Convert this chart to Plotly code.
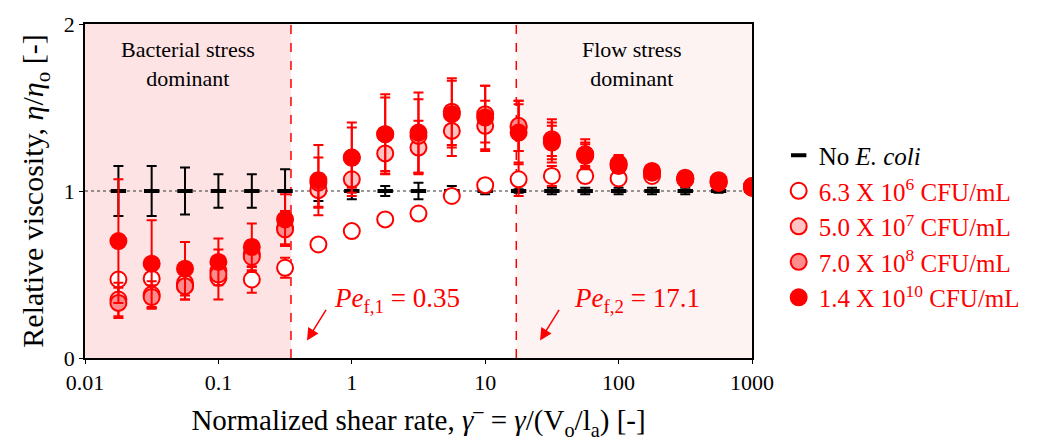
import plotly.graph_objects as go

# ---- data ----
shear_rate = [0.0178, 0.0316, 0.0562, 0.1, 0.178, 0.316, 0.562, 1.0, 1.78, 3.16,
              5.62, 10.0, 17.8, 31.6, 56.2, 100.0, 178.0, 316.0, 562.0, 1000.0]

no_ecoli = [1.0] * 20
no_ecoli_err = [0.15, 0.15, 0.14, 0.10, 0.10, 0.13, 0.06, 0.05, 0.03, 0.05,
                0.03, 0.02, 0.01, 0.02, 0.02, 0.02, 0.02, 0.02, 0.01, 0.01]

c63e6 = [0.47, 0.475, 0.45, 0.48, 0.47, 0.54, 0.68, 0.76, 0.83, 0.865,
         0.97, 1.035, 1.07, 1.09, 1.09, 1.075, 1.09, 1.07, 1.065, 1.02]
c63e6_err = [0.03, 0.03, 0.03, 0.03, 0.08, 0.06, 0.02, 0.02, 0.02, 0.02,
             0.02, 0.02, 0.10, 0.06, 0.04, 0.02, 0.02, 0.02, 0.02, 0.02]

c50e7 = [0.35, 0.38, 0.43, 0.52, 0.625, 0.78, 1.005, 1.07, 1.225, 1.26,
         1.36, 1.39, 1.38, 1.29, 1.21, 1.15, 1.11, 1.07, 1.05, 1.02]
c50e7_err = [0.10, 0.08, 0.08, 0.06, 0.08, 0.10, 0.10, 0.10, 0.12, 0.16,
             0.15, 0.15, 0.14, 0.10, 0.07, 0.04, 0.03, 0.02, 0.02, 0.03]

c70e8 = [0.33, 0.365, 0.43, 0.50, 0.605, 0.77, 1.05, 1.20, 1.34, 1.33,
         1.475, 1.46, 1.39, 1.31, 1.22, 1.16, 1.12, 1.08, 1.06, 1.03]
c70e8_err = [0.09, 0.07, 0.08, 0.15, 0.09, 0.10, 0.15, 0.18, 0.22, 0.22,
             0.20, 0.17, 0.15, 0.10, 0.07, 0.05, 0.03, 0.02, 0.02, 0.03]

c14e10 = [0.70, 0.565, 0.535, 0.575, 0.665, 0.83, 1.065, 1.20, 1.34, 1.35,
          1.46, 1.44, 1.35, 1.30, 1.22, 1.165, 1.115, 1.075, 1.05, 1.03]
c14e10_err = [0.37, 0.26, 0.16, 0.14, 0.14, 0.15, 0.21, 0.21, 0.24, 0.24,
              0.20, 0.19, 0.19, 0.13, 0.09, 0.05, 0.03, 0.02, 0.02, 0.03]

pe1 = 0.35
pe2 = 17.1
x_tickvals = [0.01, 0.1, 1, 10, 100, 1000]
x_ticktext = ["0.01", "0.1", "1", "10", "100", "1000"]
y_tickvals = [0, 1, 2]

RED = "#ff0000"
FONT = "Liberation Serif"

fig = go.Figure()

fig.add_trace(go.Scatter(
    x=shear_rate, y=no_ecoli, mode="markers",
    name="No <i>E. coli</i>",
    marker=dict(symbol="line-ew", size=11, color="black",
                line=dict(color="black", width=4)),
    error_y=dict(type="data", array=no_ecoli_err, visible=True,
                 color="black", thickness=2, width=5),
))

series = [
    ("6.3 X 10<sup>6</sup> CFU/mL", c63e6, c63e6_err, "white"),
    ("5.0 X 10<sup>7</sup> CFU/mL", c50e7, c50e7_err, "#ffc4c4"),
    ("7.0 X 10<sup>8</sup> CFU/mL", c70e8, c70e8_err, "#ff8c8c"),
    ("1.4 X 10<sup>10</sup> CFU/mL", c14e10, c14e10_err, RED),
]
for name, yv, ev, fill in series:
    fig.add_trace(go.Scatter(
        x=shear_rate, y=yv, mode="markers",
        name=f'<span style="color:{RED}">{name}</span>',
        marker=dict(symbol="circle", size=16, color=fill,
                    line=dict(color=RED, width=2)),
        error_y=dict(type="data", array=ev, visible=True,
                     color=RED, thickness=2, width=5),
    ))

# regions and reference lines
fig.add_shape(type="rect", xref="x", yref="paper", x0=x_tickvals[0], x1=pe1,
              y0=0, y1=1, fillcolor="#fde3e4", line_width=0, layer="below")
fig.add_shape(type="rect", xref="x", yref="paper", x0=pe2, x1=x_tickvals[-1],
              y0=0, y1=1, fillcolor="#fdf3f3", line_width=0, layer="below")
fig.add_shape(type="line", xref="paper", yref="y", x0=0, x1=1, y0=1, y1=1,
              line=dict(color="#333333", width=1.2, dash="dot"), layer="below")
for pe in (pe1, pe2):
    fig.add_shape(type="line", xref="x", yref="paper", x0=pe, x1=pe, y0=0, y1=1,
                  line=dict(color=RED, width=1.5, dash="dash"), layer="below")

# texts
fig.add_annotation(x=-1.228, y=1.76, xref="x", yref="y", showarrow=False,
                   text="Bacterial stress<br>dominant",
                   font=dict(family=FONT, size=22, color="black"))
fig.add_annotation(x=2.10, y=1.76, xref="x", yref="y", showarrow=False,
                   text="Flow stress<br>dominant",
                   font=dict(family=FONT, size=22, color="black"))
fig.add_annotation(x=0.34, y=0.35, xref="x", yref="y", showarrow=False,
                   text="<i>Pe</i><sub>f,1</sub> = 0.35",
                   font=dict(family=FONT, size=27, color=RED))
fig.add_annotation(x=2.14, y=0.35, xref="x", yref="y", showarrow=False,
                   text="<i>Pe</i><sub>f,2</sub> = 17.1",
                   font=dict(family=FONT, size=27, color=RED))
for hx in (-0.336, 1.411):
    fig.add_annotation(x=hx, y=0.105, xref="x", yref="y", text="",
                       showarrow=True, ax=20, ay=-32, arrowhead=2,
                       arrowsize=1.6, arrowwidth=1.5, arrowcolor=RED)

fig.update_layout(
    width=1061, height=446,
    margin=dict(l=85, r=309, t=18, b=88),
    paper_bgcolor="white", plot_bgcolor="white",
    font=dict(family=FONT, size=22, color="black"),
    showlegend=True,
    legend=dict(x=1.04, y=0.675, xanchor="left", yanchor="top",
                font=dict(family=FONT, size=25, color="black"),
                bgcolor="rgba(0,0,0,0)", tracegroupgap=0, itemwidth=30),
    xaxis=dict(type="log", range=[-2, 3], tickvals=x_tickvals, ticktext=x_ticktext,
               showline=True, mirror=True, linecolor="black", linewidth=1.5,
               ticks="outside", ticklen=4, tickcolor="black",
               showgrid=False, zeroline=False,
               tickfont=dict(family=FONT, size=22),
               title=dict(text="Normalized shear rate, <i>γ</i><sup>–</sup> = <i>γ</i>/(V<sub>o</sub>/l<sub>a</sub>) [-]",
                          font=dict(family=FONT, size=29), standoff=16)),
    yaxis=dict(range=[0, 2], tickvals=y_tickvals,
               showline=True, mirror=True, linecolor="black", linewidth=1.5,
               ticks="outside", ticklen=4, tickcolor="black",
               showgrid=False, zeroline=False,
               tickfont=dict(family=FONT, size=22),
               title=dict(text="Relative viscosity, <i>η</i>/<i>η</i><sub>o</sub> [-]",
                          font=dict(family=FONT, size=30), standoff=11)),
)

fig.write_html("out.html")
